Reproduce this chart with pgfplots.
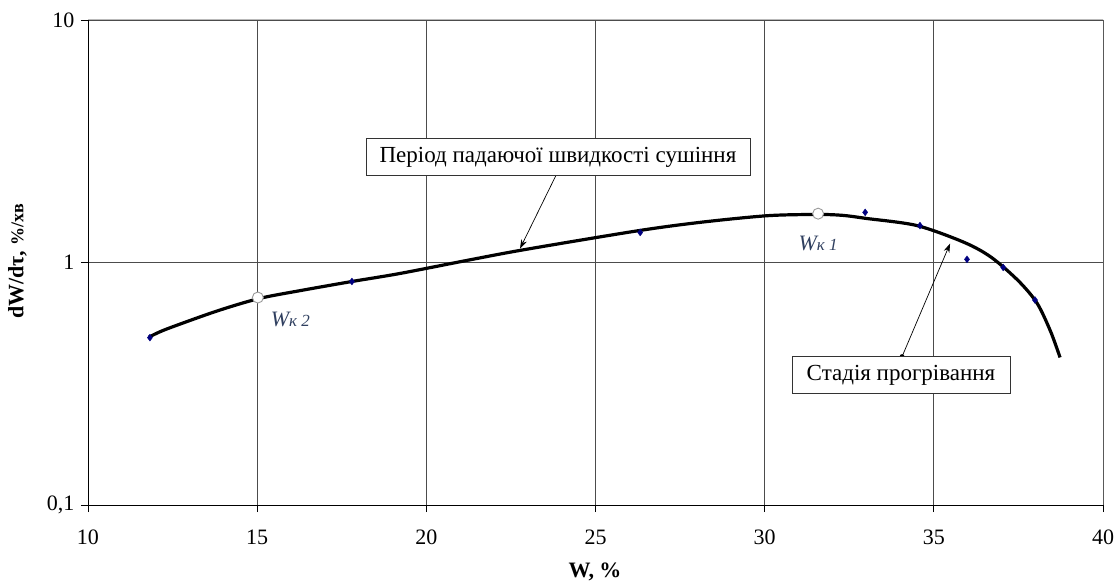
\documentclass[border=0pt]{standalone}
\usepackage{pgfplots}
\pgfplotsset{compat=1.18}
\usepackage{fontspec}
\setmainfont{Liberation Serif}
\usetikzlibrary{arrows.meta}
\definecolor{navy}{HTML}{000080}
\definecolor{lblc}{HTML}{2F3F5F}
\begin{document}
\begin{tikzpicture}
\path[use as bounding box] (-88pt,-78pt) rectangle (1030pt,505pt);
\begin{axis}[
  at={(0,0)}, anchor=south west,
  scale only axis, width=1015pt, height=485pt,
  xmin=10, xmax=40, ymin=0.1, ymax=10,
  ymode=log, enlargelimits=false,
  axis x line*=bottom, axis y line*=left,
  axis line style={-, black, line width=0.9pt},
  xtick={10,15,20,25,30,35,40},
  ytick={0.1,1,10}, yticklabels={{0,1},1,10},
  yminorticks=false,
  tick align=outside, major tick length=7pt,
  tick style={black, line width=0.9pt},
  grid=major, grid style={black!70, line width=0.8pt},
  /pgf/number format/assume math mode=true,
  ticklabel style={font=\fontsize{22}{24}\selectfont},
  yticklabel style={xshift=-3pt},
  xticklabel style={yshift=-14pt},
  xlabel={\textbf{W, \%}},
  ylabel={\textbf{dW/dτ, {\fontsize{18}{20}\selectfont \%/хв}}},
  xlabel style={at={(axis description cs:0.4995,-0.138)}, anchor=center, font=\fontsize{22}{24}\selectfont},
  ylabel style={at={(axis description cs:-0.0695,0.503)}, anchor=center, font=\fontsize{22}{24}\selectfont},
]
\draw[gray!55, line width=1pt] (rel axis cs:0,1) -- (rel axis cs:1,1) -- (rel axis cs:1,0);
% fitted curve
\addplot[black, line width=3.2pt, smooth, tension=0.5] coordinates {
(11.8,0.492) (12.3,0.53) (13.8,0.63) (15.05,0.71) (16.3,0.767) (17.8,0.835)
(19.2,0.90) (21.2,1.02) (22.9,1.13) (26.3,1.355) (28.2,1.47) (30.1,1.56)
(31.55,1.578) (32.3,1.565) (33.0,1.52) (34.5,1.42) (35.9,1.21) (36.7,1.05)
(37.5,0.84) (38.05,0.68) (38.45,0.52) (38.73,0.406)
};
% measured points
\addplot[only marks, mark=diamond*, mark size=3.4pt, navy] coordinates {
(11.83,0.49) (17.80,0.835) (26.32,1.33) (32.97,1.61) (34.59,1.42)
(35.98,1.03) (37.05,0.954) (37.99,0.70)
};
% critical moisture points
\addplot[only marks, mark=*, mark size=5.5pt, mark options={fill=white, draw=gray!80, line width=0.9pt}] coordinates {
(15.02,0.717) (31.58,1.59)
};
\node[lblc, anchor=west, font=\itshape] at (axis cs:15.3,0.58) {{\fontsize{22}{24}\selectfont W}{\fontsize{17}{19}\selectfont к 2}};
\node[lblc, anchor=west, font=\itshape] at (axis cs:30.9,1.195) {{\fontsize{22}{24}\selectfont W}{\fontsize{17}{19}\selectfont к 1}};
% annotations
\draw[line width=0.7pt, -{Stealth[length=9pt,width=6pt]}] (axis cs:23.86,2.33) -- (axis cs:22.77,1.142);
\fill (axis cs:23.86,2.33) circle (2.5pt);
\draw[line width=0.7pt, -{Stealth[length=9pt,width=6pt]}] (axis cs:34.06,0.409) -- (axis cs:35.48,1.197);
\fill (axis cs:34.06,0.409) circle (2.5pt);
\node[draw=black!80, fill=white, line width=0.8pt, minimum width=384pt, minimum height=37pt, inner sep=0pt, font=\fontsize{23}{25}\selectfont] at (axis cs:23.89,2.72) {Період падаючої швидкості сушіння};
\node[draw=black!80, fill=white, line width=0.8pt, minimum width=218pt, minimum height=37pt, inner sep=0pt, font=\fontsize{23}{25}\selectfont] at (axis cs:34.03,0.3436) {Стадія прогрівання};
\end{axis}
\end{tikzpicture}
\end{document}
